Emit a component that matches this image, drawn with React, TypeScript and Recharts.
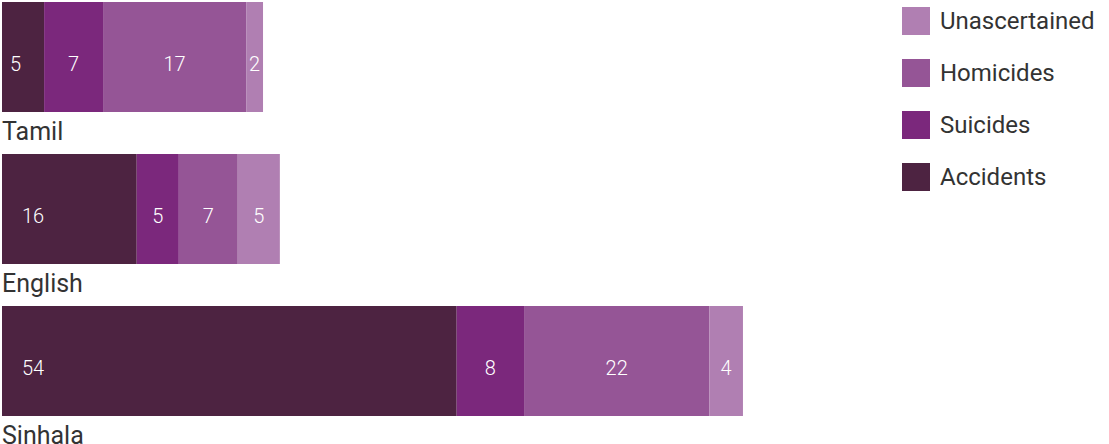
import React from "react";
import { BarChart, Bar, XAxis, YAxis, LabelList } from "recharts";

const categories = ["Tamil", "English", "Sinhala"];
const accidents = [5, 16, 54];
const suicides = [7, 5, 8];
const homicides = [17, 7, 22];
const unascertained = [2, 5, 4];

const seriesKeys = ["Accidents", "Suicides", "Homicides", "Unascertained"];
const seriesColors = ["#4d2341", "#7b287c", "#955596", "#b07fb2"];

const data = categories.map((name, i) => ({
  name,
  Accidents: accidents[i],
  Suicides: suicides[i],
  Homicides: homicides[i],
  Unascertained: unascertained[i],
}));

const FONT = "Roboto, 'Noto Sans', sans-serif";

const ValueLabel = (first: boolean) => (props: any) => {
  const { x, y, width, height, value } = props;
  const cx = first ? x + (width > 60 ? 20 : 8) : x + width / 2;
  return (
    <text
      x={cx}
      y={y + height / 2 + 14}
      fill="#ffffff"
      fontSize={20}
      fontWeight={300}
      fontFamily={FONT}
      textAnchor={first ? "start" : "middle"}
    >
      {value}
    </text>
  );
};

const CategoryLabel = (props: any) => {
  const { x, y, height, value } = props;
  return (
    <text
      x={x}
      y={y + height + 28}
      fill="#333333"
      fontSize={25}
      fontFamily={FONT}
      textAnchor="start"
    >
      {value}
    </text>
  );
};

const LegendBox = () => {
  const items = seriesKeys.map((k, i) => ({ k, c: seriesColors[i] })).reverse();
  return (
    <div style={{ position: "absolute", top: 7, left: 902, fontFamily: FONT }}>
      {items.map((it) => (
        <div
          key={it.k}
          style={{ display: "flex", alignItems: "center", height: 28, marginBottom: 24 }}
        >
          <div style={{ width: 28, height: 28, background: it.c, marginRight: 10 }} />
          <span style={{ fontSize: 24, color: "#333333", whiteSpace: "nowrap" }}>{it.k}</span>
        </div>
      ))}
    </div>
  );
};

export default function App() {
  return (
    <div style={{ position: "relative", width: 1109, height: 444, overflow: "hidden" }}>
      <style>{"body{margin:0;}"}</style>
      <div style={{ position: "absolute", top: -19, left: 0 }}>
        <BarChart
          width={1109}
          height={470}
          data={data}
          layout="vertical"
          margin={{ top: 0, right: 265, bottom: 14, left: 2 }}
          barSize={110}
          style={{ overflow: "visible" }}
        >
          <XAxis type="number" domain={[0, 100]} hide />
          <YAxis type="category" dataKey="name" hide />
          {seriesKeys.map((k, i) => (
            <Bar
              key={k}
              dataKey={k}
              stackId="a"
              fill={seriesColors[i]}
              isAnimationActive={false}
            >
              <LabelList dataKey={k} content={ValueLabel(i === 0)} />
              {i === 0 ? <LabelList dataKey="name" content={CategoryLabel} /> : null}
            </Bar>
          ))}
        </BarChart>
      </div>
      <LegendBox />
    </div>
  );
}
